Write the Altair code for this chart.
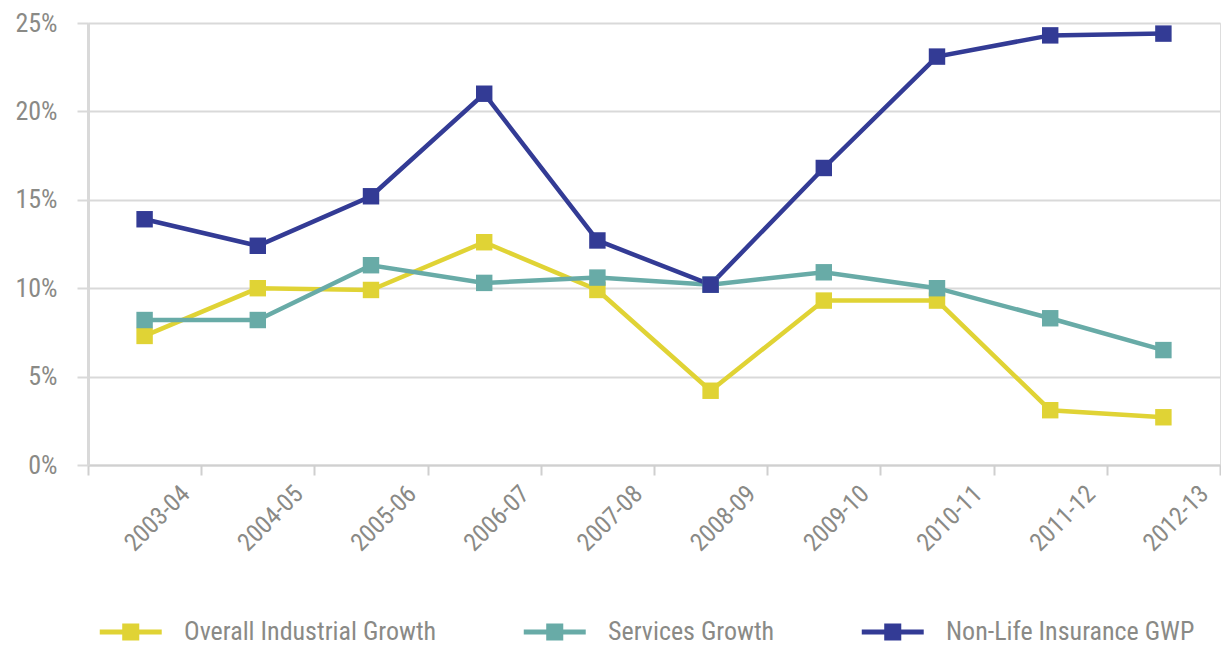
import altair as alt
import pandas as pd

years = ["2003-04", "2004-05", "2005-06", "2006-07", "2007-08",
         "2008-09", "2009-10", "2010-11", "2011-12", "2012-13"]
industrial = [7.3, 10.0, 9.9, 12.6, 9.9, 4.2, 9.3, 9.3, 3.1, 2.7]
services = [8.2, 8.2, 11.3, 10.3, 10.6, 10.2, 10.9, 10.0, 8.3, 6.5]
nonlife = [13.9, 12.4, 15.2, 21.0, 12.7, 10.2, 16.8, 23.1, 24.3, 24.4]

series_names = ["Overall Industrial Growth", "Services Growth", "Non-Life Insurance GWP"]
series_colors = ["#E0D335", "#68ABA7", "#333B95"]

rows = []
for name, vals in zip(series_names, [industrial, services, nonlife]):
    for y, v in zip(years, vals):
        rows.append({"Year": y, "Series": name, "Value": v / 100})
df = pd.DataFrame(rows)

FONT = "Liberation Sans Narrow, Roboto Condensed, DejaVu Sans Condensed, Roboto, sans-serif"
GRAY = "#8a8a86"

legend_symbol = ("M-3,-0.32L5,-0.32L5,0.32L-3,0.32Z "
                 "M-0.1,-1.1L2.1,-1.1L2.1,1.1L-0.1,1.1Z")

color = alt.Color(
    "Series:N",
    scale=alt.Scale(domain=series_names, range=series_colors),
    sort=series_names,
    legend=alt.Legend(
        title=None, orient="none", legendX=22, legendY=596,
        direction="horizontal", columns=3,
        symbolType=legend_symbol, symbolSize=240, symbolStrokeWidth=0,
        symbolOpacity=1, labelFont=FONT, labelFontSize=26, labelColor=GRAY,
        labelOffset=48, columnPadding=86, symbolOffset=0,
        labelLimit=400,
    ),
)

x = alt.X(
    "Year:N", sort=years, title=None,
    scale=alt.Scale(paddingInner=0, paddingOuter=0),
    axis=alt.Axis(
        labelAngle=-45, labelFont=FONT, labelFontSize=25, labelColor=GRAY,
        tickBand="extent", labelOffset=32, labelPadding=6,
        tickSize=10, tickColor="#cfcfcf", tickWidth=2,
        domainColor="#d0d0d0", domainWidth=2, grid=False,
    ),
)
y = alt.Y(
    "Value:Q", title=None,
    scale=alt.Scale(domain=[0, 0.25], nice=False),
    axis=alt.Axis(
        format=".0%", values=[0, 0.05, 0.10, 0.15, 0.20, 0.25],
        labelFont=FONT, labelFontSize=26, labelColor=GRAY,
        tickSize=11, tickColor="#d9d9d9", tickWidth=2, labelPadding=20,
        gridColor="#d9d9d9", gridWidth=2, domainColor="#d9d9d9", domainWidth=3,
        minExtent=80, maxExtent=80,
    ),
)

base = alt.Chart(df).encode(x=x, y=y, color=color)
lines = base.mark_line(strokeWidth=4.5)
points = base.mark_point(shape="square", filled=True, size=270, opacity=1)

chart = (lines + points).properties(width=1132, height=442).configure_view(
    stroke=None
).configure(background="white", padding={"left": 0, "top": 2, "right": 0, "bottom": 0})

chart.save("out.html", embed_options={"renderer": "svg", "actions": False})
